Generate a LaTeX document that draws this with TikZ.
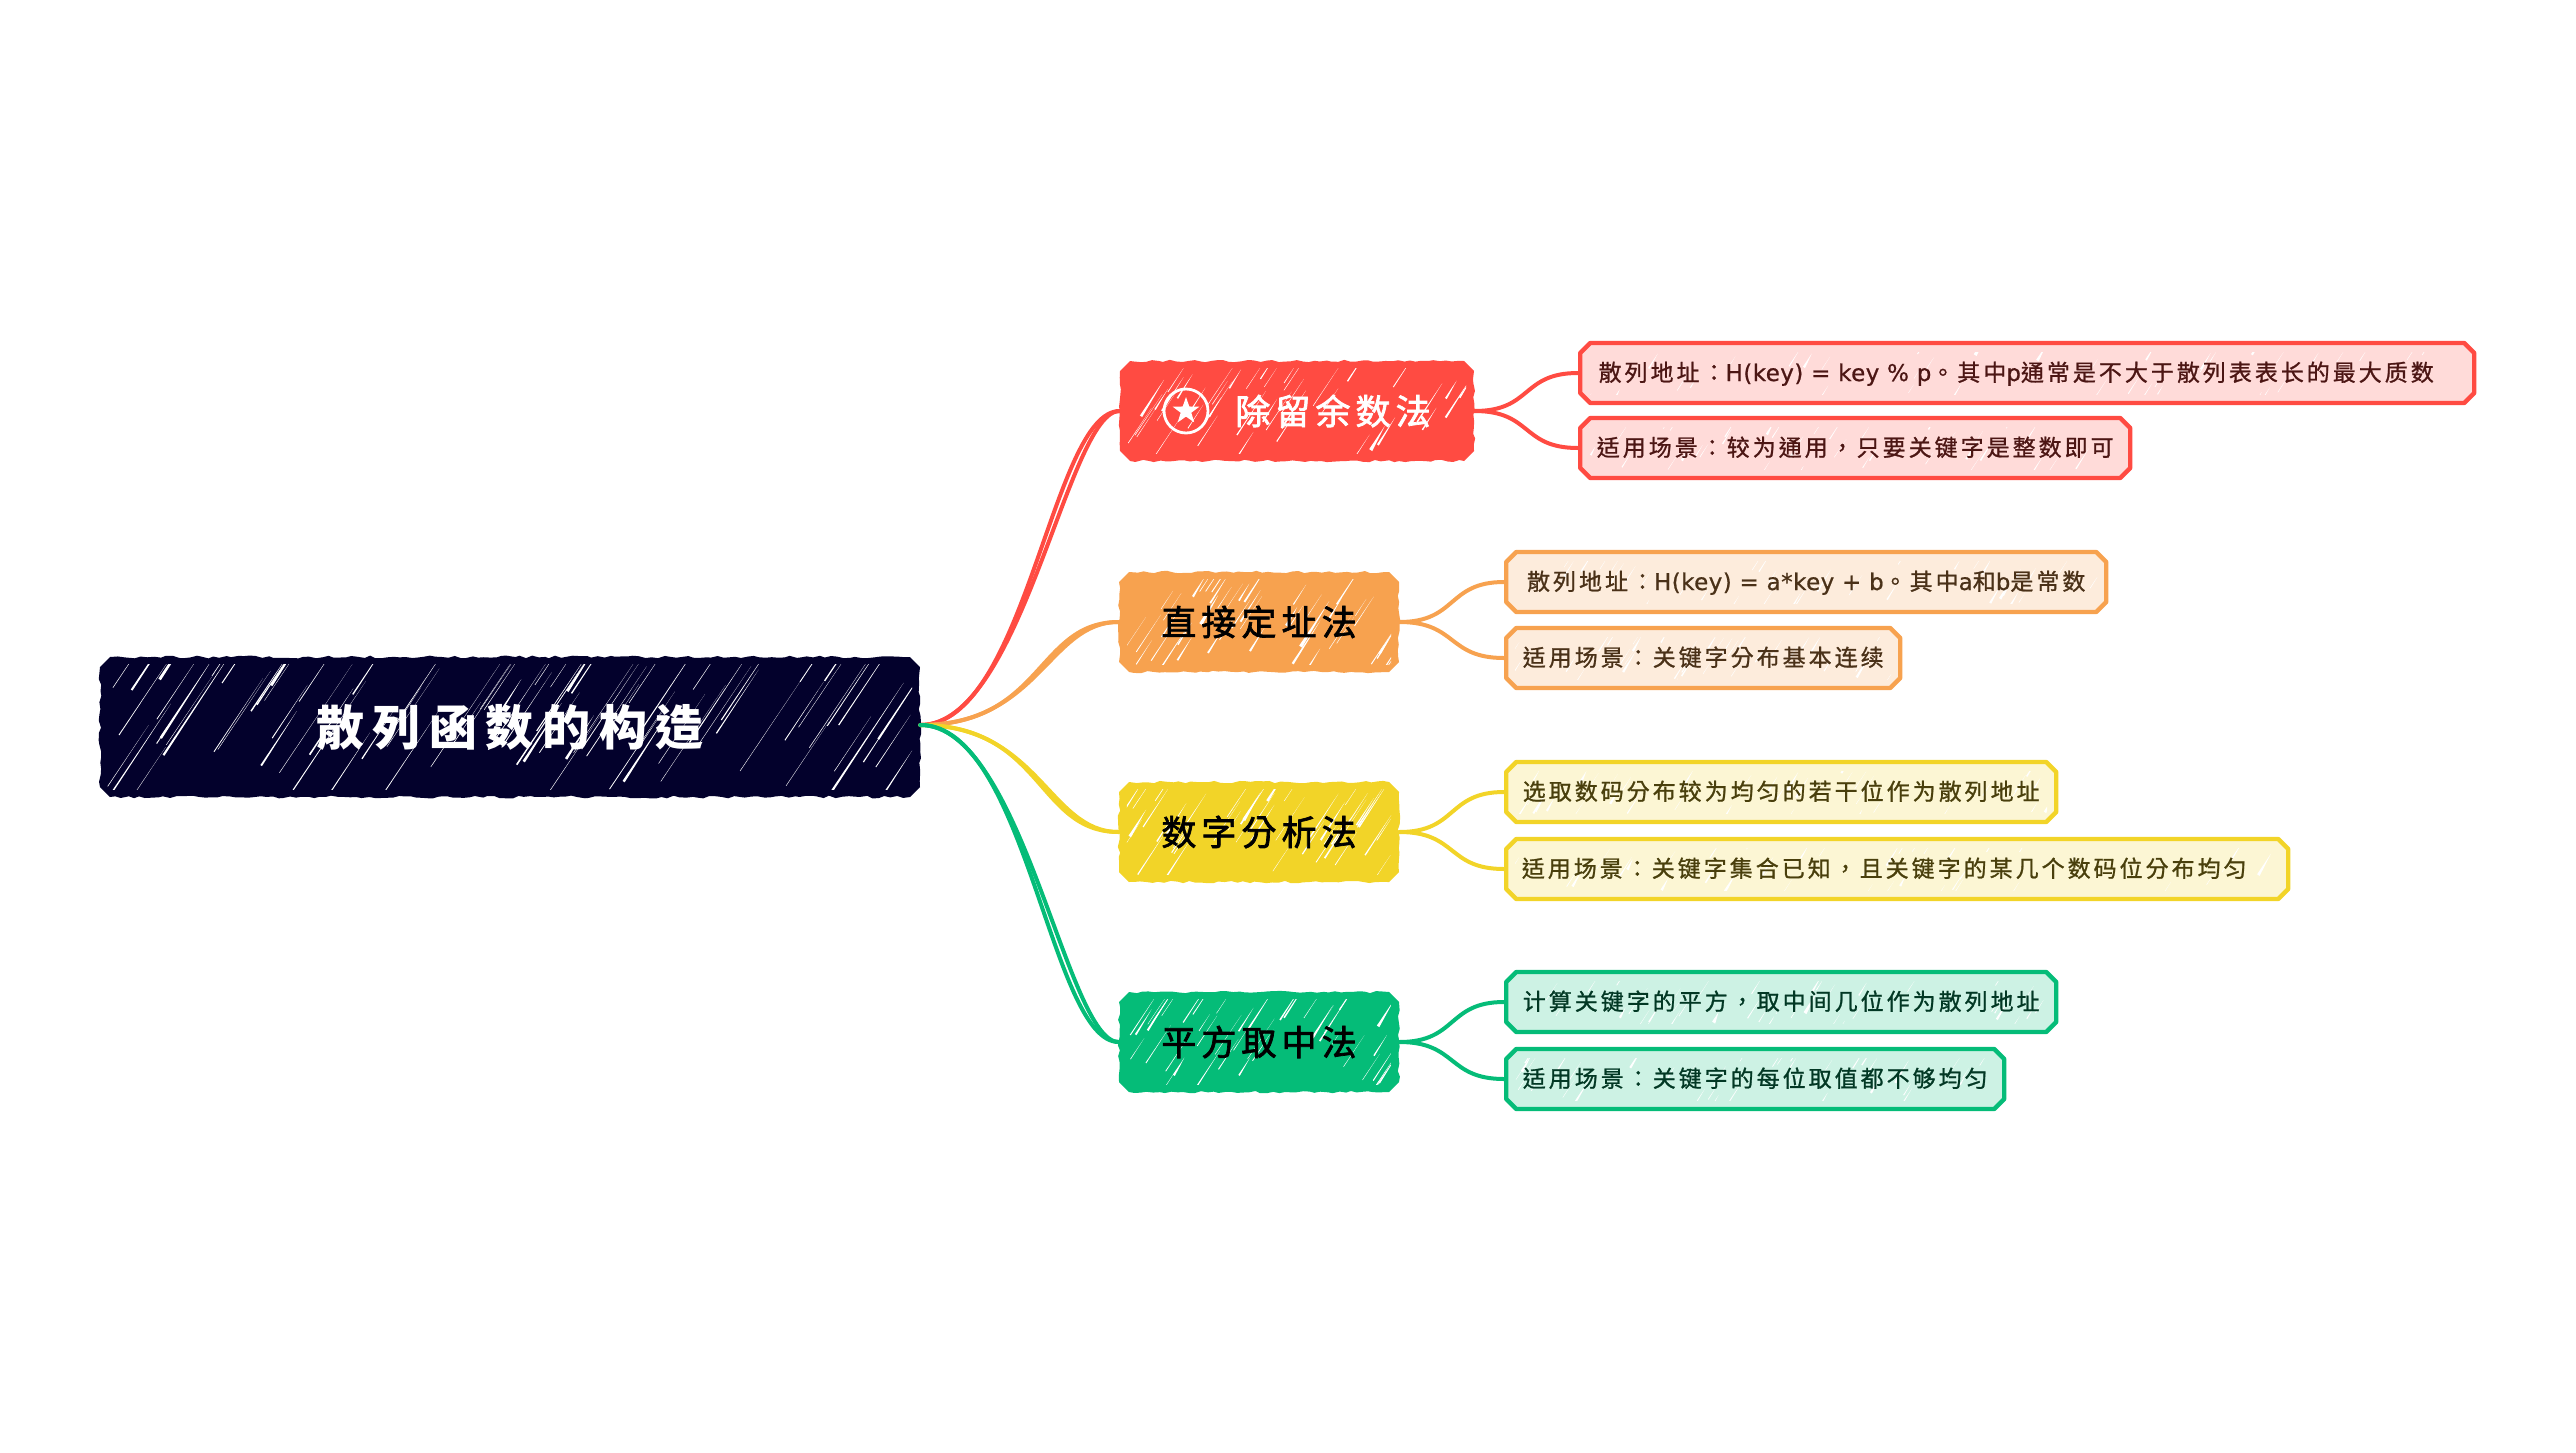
\documentclass[tikz,border=0pt]{standalone}
\usepackage{fontspec}
\newfontfamily\enfont[LetterSpace=2,FakeBold=.8]{DejaVu Sans}
\newfontfamily\zhfont[LetterSpace=13,FakeBold=1]{Noto Sans CJK TC}
\newfontfamily\zhmidfont[LetterSpace=14.5,FakeBold=2]{Noto Sans CJK TC}
\newfontfamily\zhrootfont[LetterSpace=18]{Noto Sans CJK TC}
\usetikzlibrary{calc,shapes.geometric,shapes.misc,decorations.pathmorphing}

\definecolor{rootc}{HTML}{03012C}
\definecolor{redc}{HTML}{FF4B42}
\definecolor{orangec}{HTML}{F7A24F}
\definecolor{yellowc}{HTML}{F2D428}
\definecolor{greenc}{HTML}{05BC78}

% number of strokes, height, longest stroke
\newcommand{\scribble}[3]{
	\clip ([shift={(4.5pt,4.5pt)}]path picture bounding box.south west) rectangle ([shift={(-4.5pt,-4.5pt)}]path picture bounding box.north east);
	\foreach \s in {1,...,#1}{
		\pgfmathsetmacro{\sx}{rnd}
		\pgfmathsetmacro{\sy}{#2*rnd}
		\pgfmathsetmacro{\sl}{#3*(.35+.65*rnd)}
		\pgfmathsetmacro{\sw}{.2+1.7*rnd*rnd}
		\coordinate (sp) at ($(path picture bounding box.south west)!\sx!(path picture bounding box.south east)+(0,\sy pt)$);
		\fill[white] (sp) -- ++(56:\sl pt) -- ([shift={(-34:\sw pt)}]sp) -- cycle;
	}
}

\tikzset{
	chamfer/.style={chamfered rectangle,chamfered rectangle xsep=2.5pt,chamfered rectangle ysep=2.5pt},
	rootbox/.style={chamfer,fill=rootc,text=white,font=\zhrootfont\fontsize{24pt}{26pt}\selectfont\bfseries,minimum width=410pt,minimum height=70pt,decorate,decoration={random steps,segment length=3pt,amplitude=.7pt},path picture={\scribble{85}{62}{70}}},
	midbox/.style={chamfer,fill=#1,text=black,font=\zhmidfont\fontsize{17.5pt}{19pt}\selectfont,minimum width=140pt,minimum height=50pt,decorate,decoration={random steps,segment length=3pt,amplitude=.6pt},path picture={\scribble{45}{42}{27}}},
	leafbox/.style={chamfer,draw=#1,fill=#1!20,line width=2.2pt,line join=round,anchor=west,font=\zhfont\fontsize{11.5pt}{13pt}\selectfont,text=#1!30!black,minimum height=30pt,inner xsep=3pt,inner ysep=0pt,text height=10pt,text depth=2pt,path picture={\scribble{40}{25}{13}}},
	branch/.style={#1,line width=2pt,line cap=round},
	twig/.style={#1,line width=2pt,line cap=round},
}

\begin{document}
\begin{tikzpicture}[x=.5pt,y=-.5pt]
	\useasboundingbox (0,0) rectangle (2576,1452);
	\pgfmathsetseed{11}
	
	\node[rootbox] (root) at (510,727) {散列函数的构造};
	\coordinate (hub) at ([yshift=1pt]root.east);
	
	\node[midbox=redc,minimum width=177pt,text=white] (rednode) at (1297,411) {\hspace*{36pt}除留余数法};
	\node[midbox=orangec] (orangenode) at (1259,622) {直接定址法};
	\node[midbox=yellowc] (yellownode) at (1259,832) {数字分析法};
	\node[midbox=greenc] (greennode) at (1259,1042) {平方取中法};
	
	\node[circle,draw=white,line width=1.4pt,minimum size=22pt,inner sep=0pt] (staricon) at (1186,411) {};
	\node[star,star points=5,star point ratio=2.5,fill=white,minimum size=14pt,inner sep=0pt] (starmark) at (staricon) {};
	
	\node[leafbox=redc,minimum width=447pt] (redone) at (1578,373) {散列地址：{\enfont H(key) = key \% p}。其中{\enfont p}通常是不大于散列表表长的最大质数\hspace*{11pt}};
	\node[leafbox=redc,minimum width=275pt] (redtwo) at (1578,448) {适用场景：较为通用，只要关键字是整数即可};
	\node[leafbox=orangec,minimum width=300pt] (orangeone) at (1504,582) {散列地址：{\enfont H(key) = a*key + b}。其中{\enfont a}和{\enfont b}是常数};
	\node[leafbox=orangec,minimum width=197pt] (orangetwo) at (1504,658) {适用场景：关键字分布基本连续};
	\node[leafbox=yellowc,minimum width=275pt] (yellowone) at (1504,792) {选取数码分布较为均匀的若干位作为散列地址};
	\node[leafbox=yellowc,minimum width=391pt] (yellowtwo) at (1504,869) {适用场景：关键字集合已知，且关键字的某几个数码位分布均匀\hspace*{13pt}};
	\node[leafbox=greenc,minimum width=275pt] (greenone) at (1504,1002) {计算关键字的平方，取中间几位作为散列地址};
	\node[leafbox=greenc,minimum width=249pt] (greentwo) at (1504,1079) {适用场景：关键字的每位取值都不够均匀};
	
	\draw[branch=redc] (hub) .. controls +(102,0) and +(-52,0) .. (rednode.west);
	\draw[branch=redc] (hub) .. controls +(106,0) and +(-68,0) .. (rednode.west);
	\draw[branch=orangec] (hub) .. controls +(119,0) and +(-70,0) .. (orangenode.west);
	\draw[branch=orangec] (hub) .. controls +(123,0) and +(-82,0) .. (orangenode.west);
	\draw[branch=yellowc] (hub) .. controls +(119,0) and +(-70,0) .. (yellownode.west);
	\draw[branch=yellowc] (hub) .. controls +(123,0) and +(-82,0) .. (yellownode.west);
	\draw[branch=greenc] (hub) .. controls +(102,0) and +(-52,0) .. (greennode.west);
	\draw[branch=greenc] (hub) .. controls +(106,0) and +(-68,0) .. (greennode.west);
	
	\draw[twig=redc] (rednode.east) .. controls +(58,0) and +(-57,0) .. (redone.west);
	\draw[twig=redc] (rednode.east) .. controls +(58,0) and +(-57,0) .. (redtwo.west);
	\draw[twig=orangec] (orangenode.east) .. controls +(58,0) and +(-57,0) .. (orangeone.west);
	\draw[twig=orangec] (orangenode.east) .. controls +(58,0) and +(-57,0) .. (orangetwo.west);
	\draw[twig=yellowc] (yellownode.east) .. controls +(58,0) and +(-57,0) .. (yellowone.west);
	\draw[twig=yellowc] (yellownode.east) .. controls +(58,0) and +(-57,0) .. (yellowtwo.west);
	\draw[twig=greenc] (greennode.east) .. controls +(58,0) and +(-57,0) .. (greenone.west);
	\draw[twig=greenc] (greennode.east) .. controls +(58,0) and +(-57,0) .. (greentwo.west);
	
\end{tikzpicture}
\end{document}
